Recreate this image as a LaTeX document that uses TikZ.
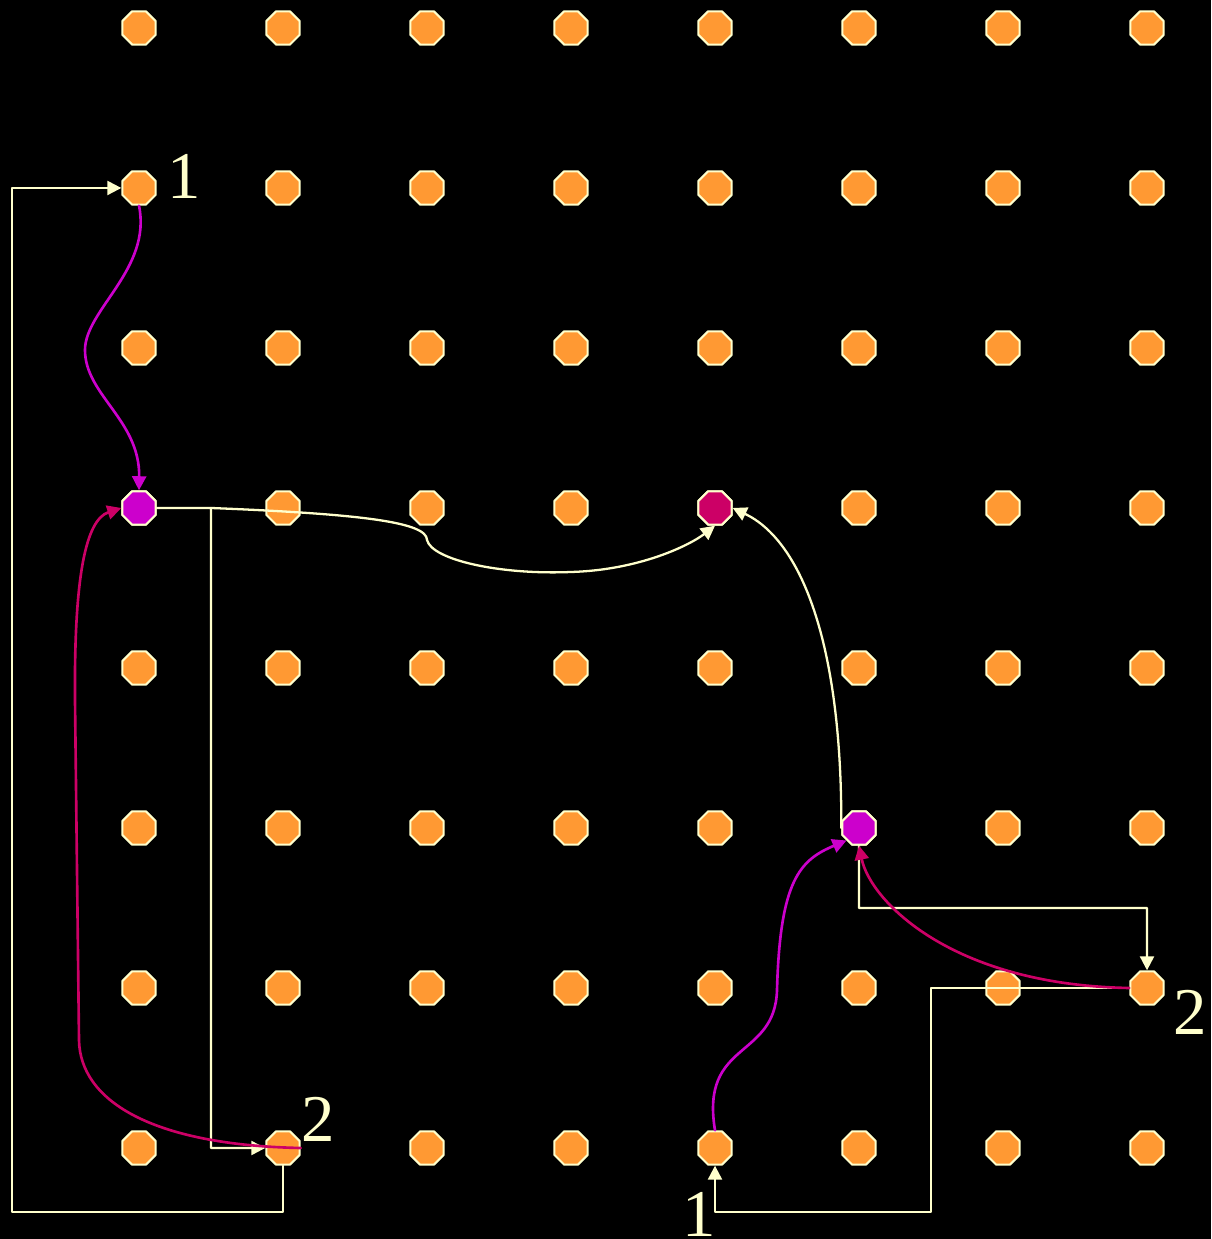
\documentclass[tikz,border=0pt]{standalone}
\usepackage{fontspec}
\setmainfont{Liberation Serif}
\usepackage{xcolor}
\usetikzlibrary{arrows.meta,shapes.geometric,calc}

\definecolor{arancio}{HTML}{FF9933}
\definecolor{crema}{HTML}{FFFFCC}
\definecolor{viola}{HTML}{CC00CC}
\definecolor{cremisi}{HTML}{CC0066}

\begin{document}
\begin{tikzpicture}[
		line cap=round, line join=round,
		pad/.style={regular polygon, regular polygon sides=8, draw=crema,
				fill=arancio, line width=0.6pt, minimum size=0.36cm, inner sep=0pt},
		filo/.style={draw=crema, line width=0.65pt},
		onda/.style={line width=0.75pt},
		punta/.style={-{Triangle[length=4pt,width=4pt]}},
		lbl/.style={text=crema, font=\fontsize{19}{19}\selectfont, inner sep=0pt}]

	% ---- sfondo e cornice ----
	\useasboundingbox (0,0) rectangle (12.11,12.39);
	\fill[black] (0,0) rectangle (12.11,12.39);

	% ---- griglia di piazzole 8x8 ----
	\foreach \c in {0,...,7}
	\foreach \r in {0,...,7}
	\node[pad] (n-\c-\r) at ({1.39+1.44*\c},{12.11-1.6*\r}) {};

	% piazzole colorate (sopra quelle arancio)
	\node[pad, fill=viola]   (n-0-3) at (n-0-3) {};
	\node[pad, fill=cremisi] (n-4-3) at (n-4-3) {};
	\node[pad, fill=viola]   (n-5-5) at (n-5-5) {};

	% ---- punti d'angolo dei fili ----
	\coordinate (c1)  at (0.12,0.27);
	\coordinate (jct) at (2.11,7.31);
	\coordinate (c3)  at (11.47,3.31);
	\coordinate (c4)  at (9.31,0.27);

	% ---- fili color crema ----
	\draw[filo, punta] (n-1-7.south) |- (c1) |- (n-0-1.west);
	\draw[filo, punta] (n-0-3.east) -- (jct) |- (n-1-7.west);
	\draw[filo, punta] (jct) .. controls (3.6,7.25) and (4.27,7.17) .. (4.27,6.99)
		.. controls (4.32,6.79) and (5.0,6.64) .. (5.71,6.67)
		.. controls (6.4,6.69) and (6.9,6.94) .. (n-4-3.south);
	\draw[filo, punta] (n-5-5.south) |- (c3) -- (n-7-6.north);
	\draw[filo, punta] (n-7-6.west) -| (c4) -| (n-4-7.south);
	\draw[filo, punta] (n-5-5.west) .. controls (8.42,5.99) and (8.00,6.99) .. (n-4-3.east);

	% ---- percorsi curvi ----
	\draw[onda, viola, punta] (n-0-1.south) .. controls (1.52,9.70) and (0.85,9.29) .. (0.85,8.89)
		.. controls (0.85,8.44) and (1.40,8.19) .. (n-0-3.north);
	\draw[onda, cremisi, punta] (n-1-7.east) .. controls (1.50,0.94) and (0.80,1.39) .. (0.79,1.99)
		-- (0.75,5.39) .. controls (0.74,6.59) and (0.85,7.19) .. (n-0-3.west);
	\draw[onda, viola, punta] (n-4-7.north) .. controls (7.00,1.99) and (7.75,1.79) .. (7.77,2.49)
		.. controls (7.80,3.59) and (8.00,3.79) .. (n-5-5.225);
	\draw[onda, cremisi, punta] (n-7-6.west) .. controls (9.50,2.54) and (8.70,3.39) .. (n-5-5.south);

	% ---- etichette ----
	\node[lbl] (l1a) at (1.84,10.63) {1};
	\node[lbl] (l2a) at (3.18,1.20)  {2};
	\node[lbl] (l2b) at (11.90,2.27) {2};
	\node[lbl] (l1b) at (6.99,0.25)  {1};

\end{tikzpicture}
\end{document}
